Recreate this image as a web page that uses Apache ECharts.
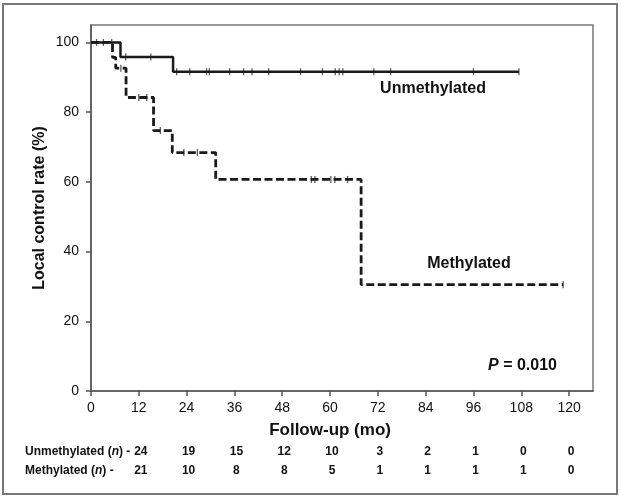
<!DOCTYPE html>
<html><head><meta charset="utf-8">
<script src="https://cdn.jsdelivr.net/npm/echarts@6/dist/echarts.min.js"></script>
<style>html,body{margin:0;padding:0;background:#fff}#c{width:621px;height:501px}</style>
</head><body><div id="c"></div>
<script>
const xTicks = [0, 12, 24, 36, 48, 60, 72, 84, 96, 108, 120];
const yTicks = [0, 20, 40, 60, 80, 100];
const unmethEventTimes = [0, 7.4, 20.6];
const unmethLevels = [100, 95.8, 91.6];
const unmethEnd = 107.4;
const unmethCensored = [1.4, 3.1, 5.2, 8.7, 15, 21.5, 24.8, 29, 29.7, 34.8, 38.3, 40.4, 44.6, 52.6, 58.1, 61.3, 62.3, 63.2, 71, 75.2, 96, 107.4];
const methEventTimes = [0, 5.4, 6.2, 8.8, 15.7, 20.4, 31.3, 67.8];
const methLevels = [100, 95.7, 92.6, 84.2, 74.7, 68.4, 60.7, 30.5];
const methEnd = 118.5;
const methCensored = [7.5, 12, 14, 17.4, 23.3, 26.7, 55.3, 56.2, 60.2, 61.2, 64.4, 118.5];
const riskTimes = [12, 24, 36, 48, 60, 72, 84, 96, 108, 120];
const unmethAtRisk = [24, 19, 15, 12, 10, 3, 2, 1, 0, 0];
const methAtRisk = [21, 10, 8, 8, 5, 1, 1, 1, 1, 0];

const FONT = '"Liberation Sans", Arial, Helvetica, sans-serif';
function stepData(times, levels, end) {
  const d = times.map((t, i) => [t, levels[i]]);
  d.push([end, levels[levels.length - 1]]);
  return d;
}
function levelAt(times, levels, t) {
  let v = levels[0];
  for (let i = 0; i < times.length; i++) if (times[i] <= t) v = levels[i];
  return v;
}
const chart = echarts.init(document.getElementById('c'), null, {renderer: 'canvas'});
const option = {
  animation: false,
  backgroundColor: '#fff',
  grid: {left: 91, right: 28, top: 25, bottom: 110, show: true, borderColor: '#777', borderWidth: 1.5},
  xAxis: {
    type: 'value', min: 0, max: 126,
    axisLine: {lineStyle: {color: '#555', width: 1.5}},
    axisTick: {length: 5, lineStyle: {color: '#555', width: 1.5}, customValues: xTicks},
    axisLabel: {customValues: xTicks, color: '#111', fontSize: 14, fontFamily: FONT, margin: 10},
    splitLine: {show: false}
  },
  yAxis: {
    type: 'value', min: 0, max: 105,
    axisLine: {show: true, lineStyle: {color: '#555', width: 1.5}},
    axisTick: {show: true, length: 5, lineStyle: {color: '#555', width: 1.5}, customValues: yTicks},
    axisLabel: {customValues: yTicks, color: '#111', fontSize: 14, fontFamily: FONT, margin: 12},
    splitLine: {show: false}
  },
  series: [
    {type: 'line', step: 'end', symbol: 'none', data: stepData(unmethEventTimes, unmethLevels, unmethEnd),
     lineStyle: {color: '#1a1a1a', width: 2.5}},
    {type: 'line', step: 'end', symbol: 'none', data: stepData(methEventTimes, methLevels, methEnd),
     lineStyle: {color: '#1a1a1a', width: 2.8, type: [8, 3.5]}},
    {type: 'scatter', symbol: 'rect', symbolSize: [1.3, 7], itemStyle: {color: '#333'},
     data: unmethCensored.map(t => [t, levelAt(unmethEventTimes, unmethLevels, t)])},
    {type: 'scatter', symbol: 'rect', symbolSize: [1.3, 7], itemStyle: {color: '#333'},
     data: methCensored.map(t => [t, levelAt(methEventTimes, methLevels, t)])}
  ]
};
chart.setOption(option);

const px = t => chart.convertToPixel({xAxisIndex: 0}, t);
const graphics = [
  {type: 'rect', shape: {x: 3, y: 4, width: 614, height: 490}, style: {fill: 'none', stroke: '#777', lineWidth: 2}, silent: true},
  {type: 'text', x: 40, y: 208, rotation: Math.PI / 2,
   style: {text: 'Local control rate (%)', font: 'bold 16px ' + FONT, fill: '#111', align: 'center', verticalAlign: 'middle'}},
  {type: 'text', x: px(60), y: 430,
   style: {text: 'Follow-up (mo)', font: 'bold 17px ' + FONT, fill: '#111', align: 'center', verticalAlign: 'middle'}},
  {type: 'text', x: 433, y: 89,
   style: {text: 'Unmethylated', font: 'bold 16px ' + FONT, fill: '#111', align: 'center', verticalAlign: 'middle'}},
  {type: 'text', x: 469, y: 264,
   style: {text: 'Methylated', font: 'bold 16px ' + FONT, fill: '#111', align: 'center', verticalAlign: 'middle'}},
  {type: 'text', x: 557, y: 366,
   style: {text: '{i|P} = 0.010', align: 'right', verticalAlign: 'middle',
     rich: {i: {font: 'italic bold 16px ' + FONT, fill: '#111'}}, font: 'bold 16px ' + FONT, fill: '#111'}},
  {type: 'text', x: 25, y: 452,
   style: {text: 'Unmethylated ({i|n}) -', verticalAlign: 'middle', font: 'bold 12px ' + FONT, fill: '#111',
     rich: {i: {font: 'italic bold 12px ' + FONT, fill: '#111'}}}},
  {type: 'text', x: 25, y: 471,
   style: {text: 'Methylated ({i|n}) -', verticalAlign: 'middle', font: 'bold 12px ' + FONT, fill: '#111',
     rich: {i: {font: 'italic bold 12px ' + FONT, fill: '#111'}}}}
];
riskTimes.forEach((t, i) => {
  graphics.push({type: 'text', x: px(t) + 2, y: 452,
    style: {text: String(unmethAtRisk[i]), font: 'bold 12px ' + FONT, fill: '#111', align: 'center', verticalAlign: 'middle'}});
  graphics.push({type: 'text', x: px(t) + 2, y: 471,
    style: {text: String(methAtRisk[i]), font: 'bold 12px ' + FONT, fill: '#111', align: 'center', verticalAlign: 'middle'}});
});
chart.setOption({graphic: graphics});
</script></body></html>
